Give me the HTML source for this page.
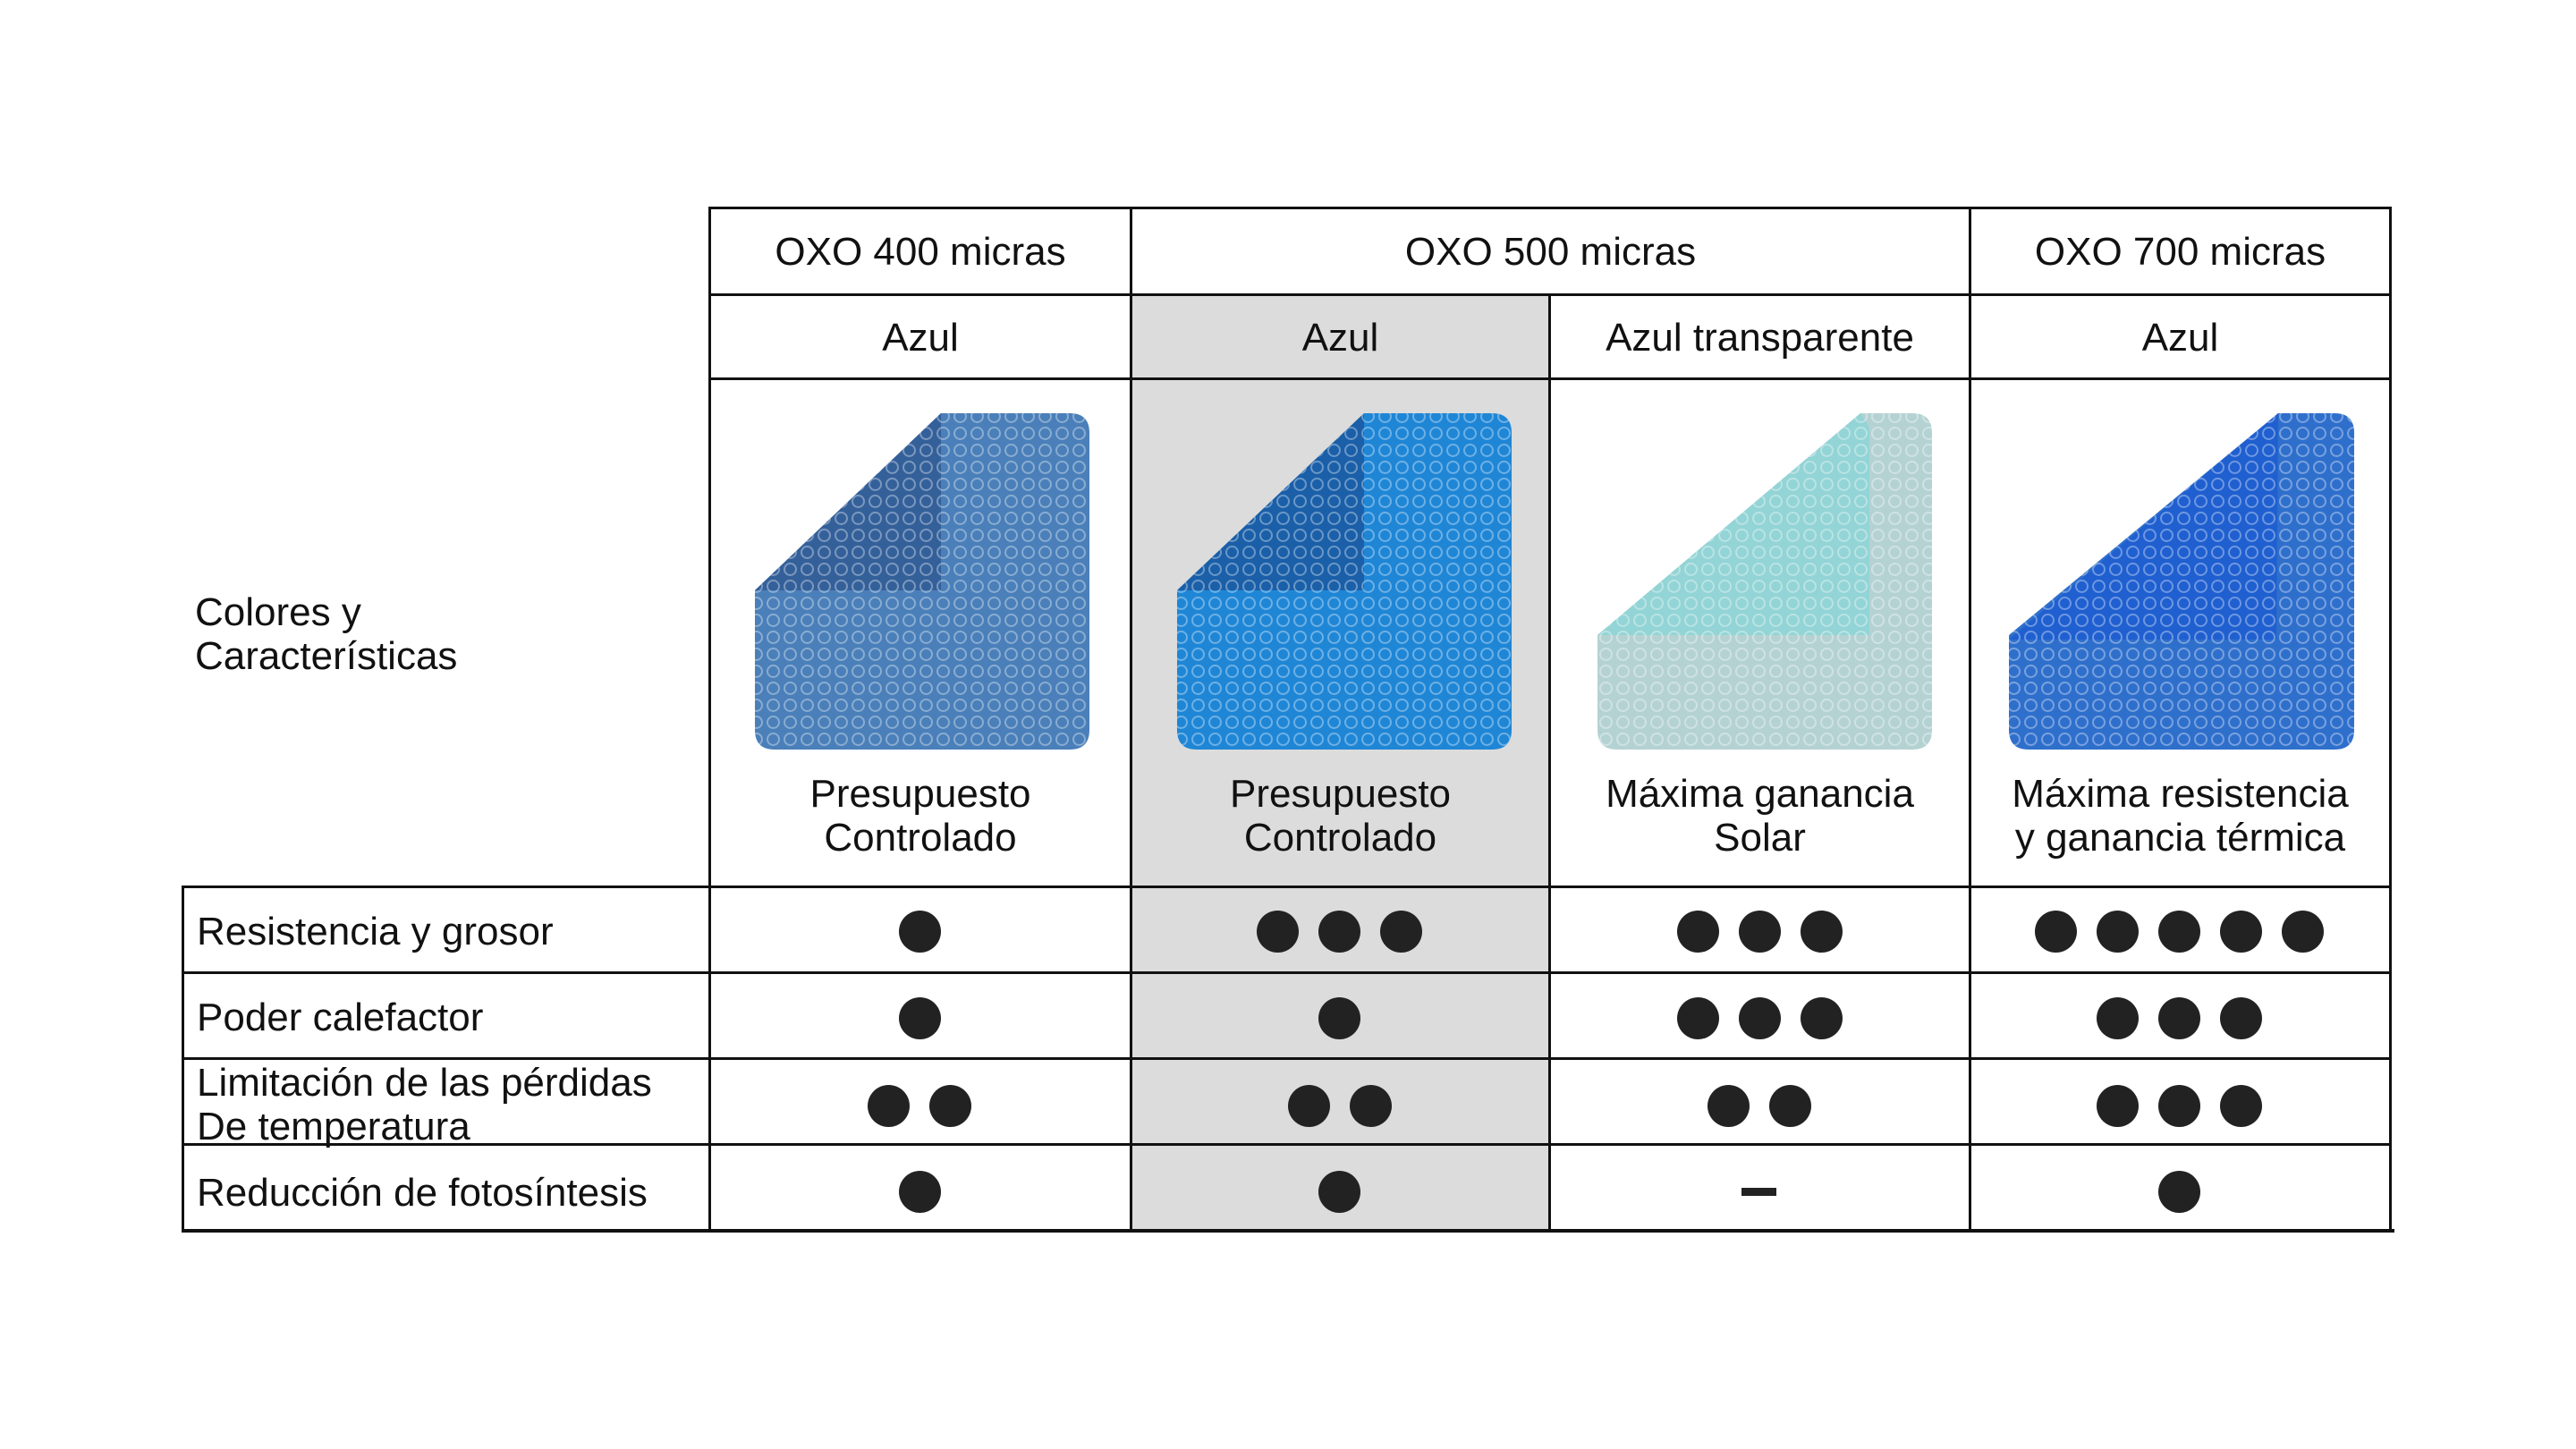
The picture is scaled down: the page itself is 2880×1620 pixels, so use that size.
<!DOCTYPE html>
<html><head><meta charset="utf-8"><style>
html,body{margin:0;padding:0;background:#fff}
body{width:2880px;height:1620px;position:relative;overflow:hidden;font-family:"Liberation Sans",sans-serif;color:#111}
.t{position:absolute;font-size:44px;line-height:48px;white-space:nowrap}
.c{text-align:center}
.h{position:absolute;background:#111;height:3px}
.v{position:absolute;background:#111;width:3px}
.dot{position:absolute;width:47px;height:47px;border-radius:50%;background:#222}
.d{position:absolute;left:-6px;top:-3px;width:2880px;height:1620px}
</style></head><body>
<div style="position:absolute;left:1263px;top:329px;width:468px;height:1048px;background:#dcdcdc"></div>

<div class="h" style="left:792px;top:231px;width:1882px"></div>
<div class="h" style="left:792px;top:328px;width:1882px"></div>
<div class="h" style="left:792px;top:422px;width:1882px"></div>
<div class="h" style="left:203px;top:990px;width:2471px"></div>
<div class="h" style="left:203px;top:1086px;width:2471px"></div>
<div class="h" style="left:203px;top:1182px;width:2471px"></div>
<div class="h" style="left:203px;top:1278px;width:2471px"></div>
<div class="h" style="left:203px;top:1374px;width:2474px;height:4px"></div>
<div class="v" style="left:203px;top:990px;height:386px"></div>
<div class="v" style="left:792px;top:231px;height:1145px"></div>
<div class="v" style="left:1263px;top:231px;height:1145px"></div>
<div class="v" style="left:1731px;top:328px;height:1048px"></div>
<div class="v" style="left:2201px;top:231px;height:1145px"></div>
<div class="v" style="left:2671px;top:231px;height:1145px"></div>

<div class="t c" style="left:795px;width:468px;top:258px">OXO 400 micras</div>
<div class="t c" style="left:1266px;width:935px;top:258px">OXO 500 micras</div>
<div class="t c" style="left:2204px;width:467px;top:258px">OXO 700 micras</div>
<div class="t c" style="left:795px;width:468px;top:354px">Azul</div>
<div class="t c" style="left:1266px;width:465px;top:354px">Azul</div>
<div class="t c" style="left:1734px;width:467px;top:354px">Azul transparente</div>
<div class="t c" style="left:2204px;width:467px;top:354px">Azul</div>

<div class="t" style="left:218px;top:660px;line-height:49px">Colores y<br>Características</div>

<div class="t c" style="left:795px;width:468px;top:863px;line-height:49px">Presupuesto<br>Controlado</div>
<div class="t c" style="left:1266px;width:465px;top:863px;line-height:49px">Presupuesto<br>Controlado</div>
<div class="t c" style="left:1734px;width:467px;top:863px;line-height:49px">Máxima ganancia<br>Solar</div>
<div class="t c" style="left:2204px;width:467px;top:863px;line-height:49px">Máxima resistencia<br>y ganancia térmica</div>

<div class="t" style="left:220px;top:1018px">Resistencia y grosor</div>
<div class="t" style="left:220px;top:1114px">Poder calefactor</div>
<div class="t" style="left:220px;top:1186px;line-height:49px">Limitación de las pérdidas<br>De temperatura</div>
<div class="t" style="left:220px;top:1310px">Reducción de fotosíntesis</div>

<svg width="2880" height="1620" style="position:absolute;left:0;top:0">
<defs>
<pattern id="b" width="19" height="19" patternUnits="userSpaceOnUse">
<circle cx="9.5" cy="9.5" r="6.5" fill="none" stroke="rgba(255,255,255,0.35)" stroke-width="2"/>
</pattern>
</defs>
<g>
<path d="M1052,462 L1196,462 Q1218,462 1218,484 L1218,816 Q1218,838 1196,838 L866,838 Q844,838 844,816 L844,660 Z" fill="#4a7fb9"/>
<path d="M1052,462 L1052,660 L844,660 Z" fill="#34609a"/>
<path d="M1052,462 L1196,462 Q1218,462 1218,484 L1218,816 Q1218,838 1196,838 L866,838 Q844,838 844,816 L844,660 Z" fill="url(#b)"/>
</g>
<g>
<path d="M1525,462 L1668,462 Q1690,462 1690,484 L1690,816 Q1690,838 1668,838 L1338,838 Q1316,838 1316,816 L1316,660 Z" fill="#1f86d6"/>
<path d="M1525,462 L1525,660 L1316,660 Z" fill="#1a5fa8"/>
<path d="M1525,462 L1668,462 Q1690,462 1690,484 L1690,816 Q1690,838 1668,838 L1338,838 Q1316,838 1316,816 L1316,660 Z" fill="url(#b)"/>
</g>
<g>
<path d="M2080,462 L2138,462 Q2160,462 2160,484 L2160,816 Q2160,838 2138,838 L1808,838 Q1786,838 1786,816 L1786,710 Z" fill="#b5d2d3"/>
<path d="M2080,462 L2090,478 L2090,710 L1786,710 Z" fill="#93d4d6"/>
<path d="M2080,462 L2138,462 Q2160,462 2160,484 L2160,816 Q2160,838 2138,838 L1808,838 Q1786,838 1786,816 L1786,710 Z" fill="url(#b)"/>
</g>
<g>
<path d="M2547,462 L2610,462 Q2632,462 2632,484 L2632,816 Q2632,838 2610,838 L2268,838 Q2246,838 2246,816 L2246,710 Z" fill="#2f6fcc"/>
<path d="M2547,462 L2545,715 L2246,715 Z" fill="#1f5fd0"/>
<path d="M2547,462 L2610,462 Q2632,462 2632,484 L2632,816 Q2632,838 2610,838 L2268,838 Q2246,838 2246,816 L2246,710 Z" fill="url(#b)"/>
</g>
</svg>

<div class="d">
<div class="dot" style="left:1011px;top:1021px"></div>
<div class="dot" style="left:1411px;top:1021px"></div><div class="dot" style="left:1480px;top:1021px"></div><div class="dot" style="left:1549px;top:1021px"></div>
<div class="dot" style="left:1881px;top:1021px"></div><div class="dot" style="left:1950px;top:1021px"></div><div class="dot" style="left:2019px;top:1021px"></div>
<div class="dot" style="left:2281px;top:1021px"></div><div class="dot" style="left:2350px;top:1021px"></div><div class="dot" style="left:2419px;top:1021px"></div><div class="dot" style="left:2488px;top:1021px"></div><div class="dot" style="left:2557px;top:1021px"></div>
<div class="dot" style="left:1011px;top:1118px"></div>
<div class="dot" style="left:1480px;top:1118px"></div>
<div class="dot" style="left:1881px;top:1118px"></div><div class="dot" style="left:1950px;top:1118px"></div><div class="dot" style="left:2019px;top:1118px"></div>
<div class="dot" style="left:2350px;top:1118px"></div><div class="dot" style="left:2419px;top:1118px"></div><div class="dot" style="left:2488px;top:1118px"></div>
<div class="dot" style="left:976px;top:1216px"></div><div class="dot" style="left:1045px;top:1216px"></div>
<div class="dot" style="left:1446px;top:1216px"></div><div class="dot" style="left:1515px;top:1216px"></div>
<div class="dot" style="left:1915px;top:1216px"></div><div class="dot" style="left:1984px;top:1216px"></div>
<div class="dot" style="left:2350px;top:1216px"></div><div class="dot" style="left:2419px;top:1216px"></div><div class="dot" style="left:2488px;top:1216px"></div>
<div class="dot" style="left:1011px;top:1312px"></div>
<div class="dot" style="left:1480px;top:1312px"></div>
<div style="position:absolute;left:1953px;top:1331px;width:39px;height:9px;background:#222"></div>
<div class="dot" style="left:2419px;top:1312px"></div>
</div>
</body></html>
